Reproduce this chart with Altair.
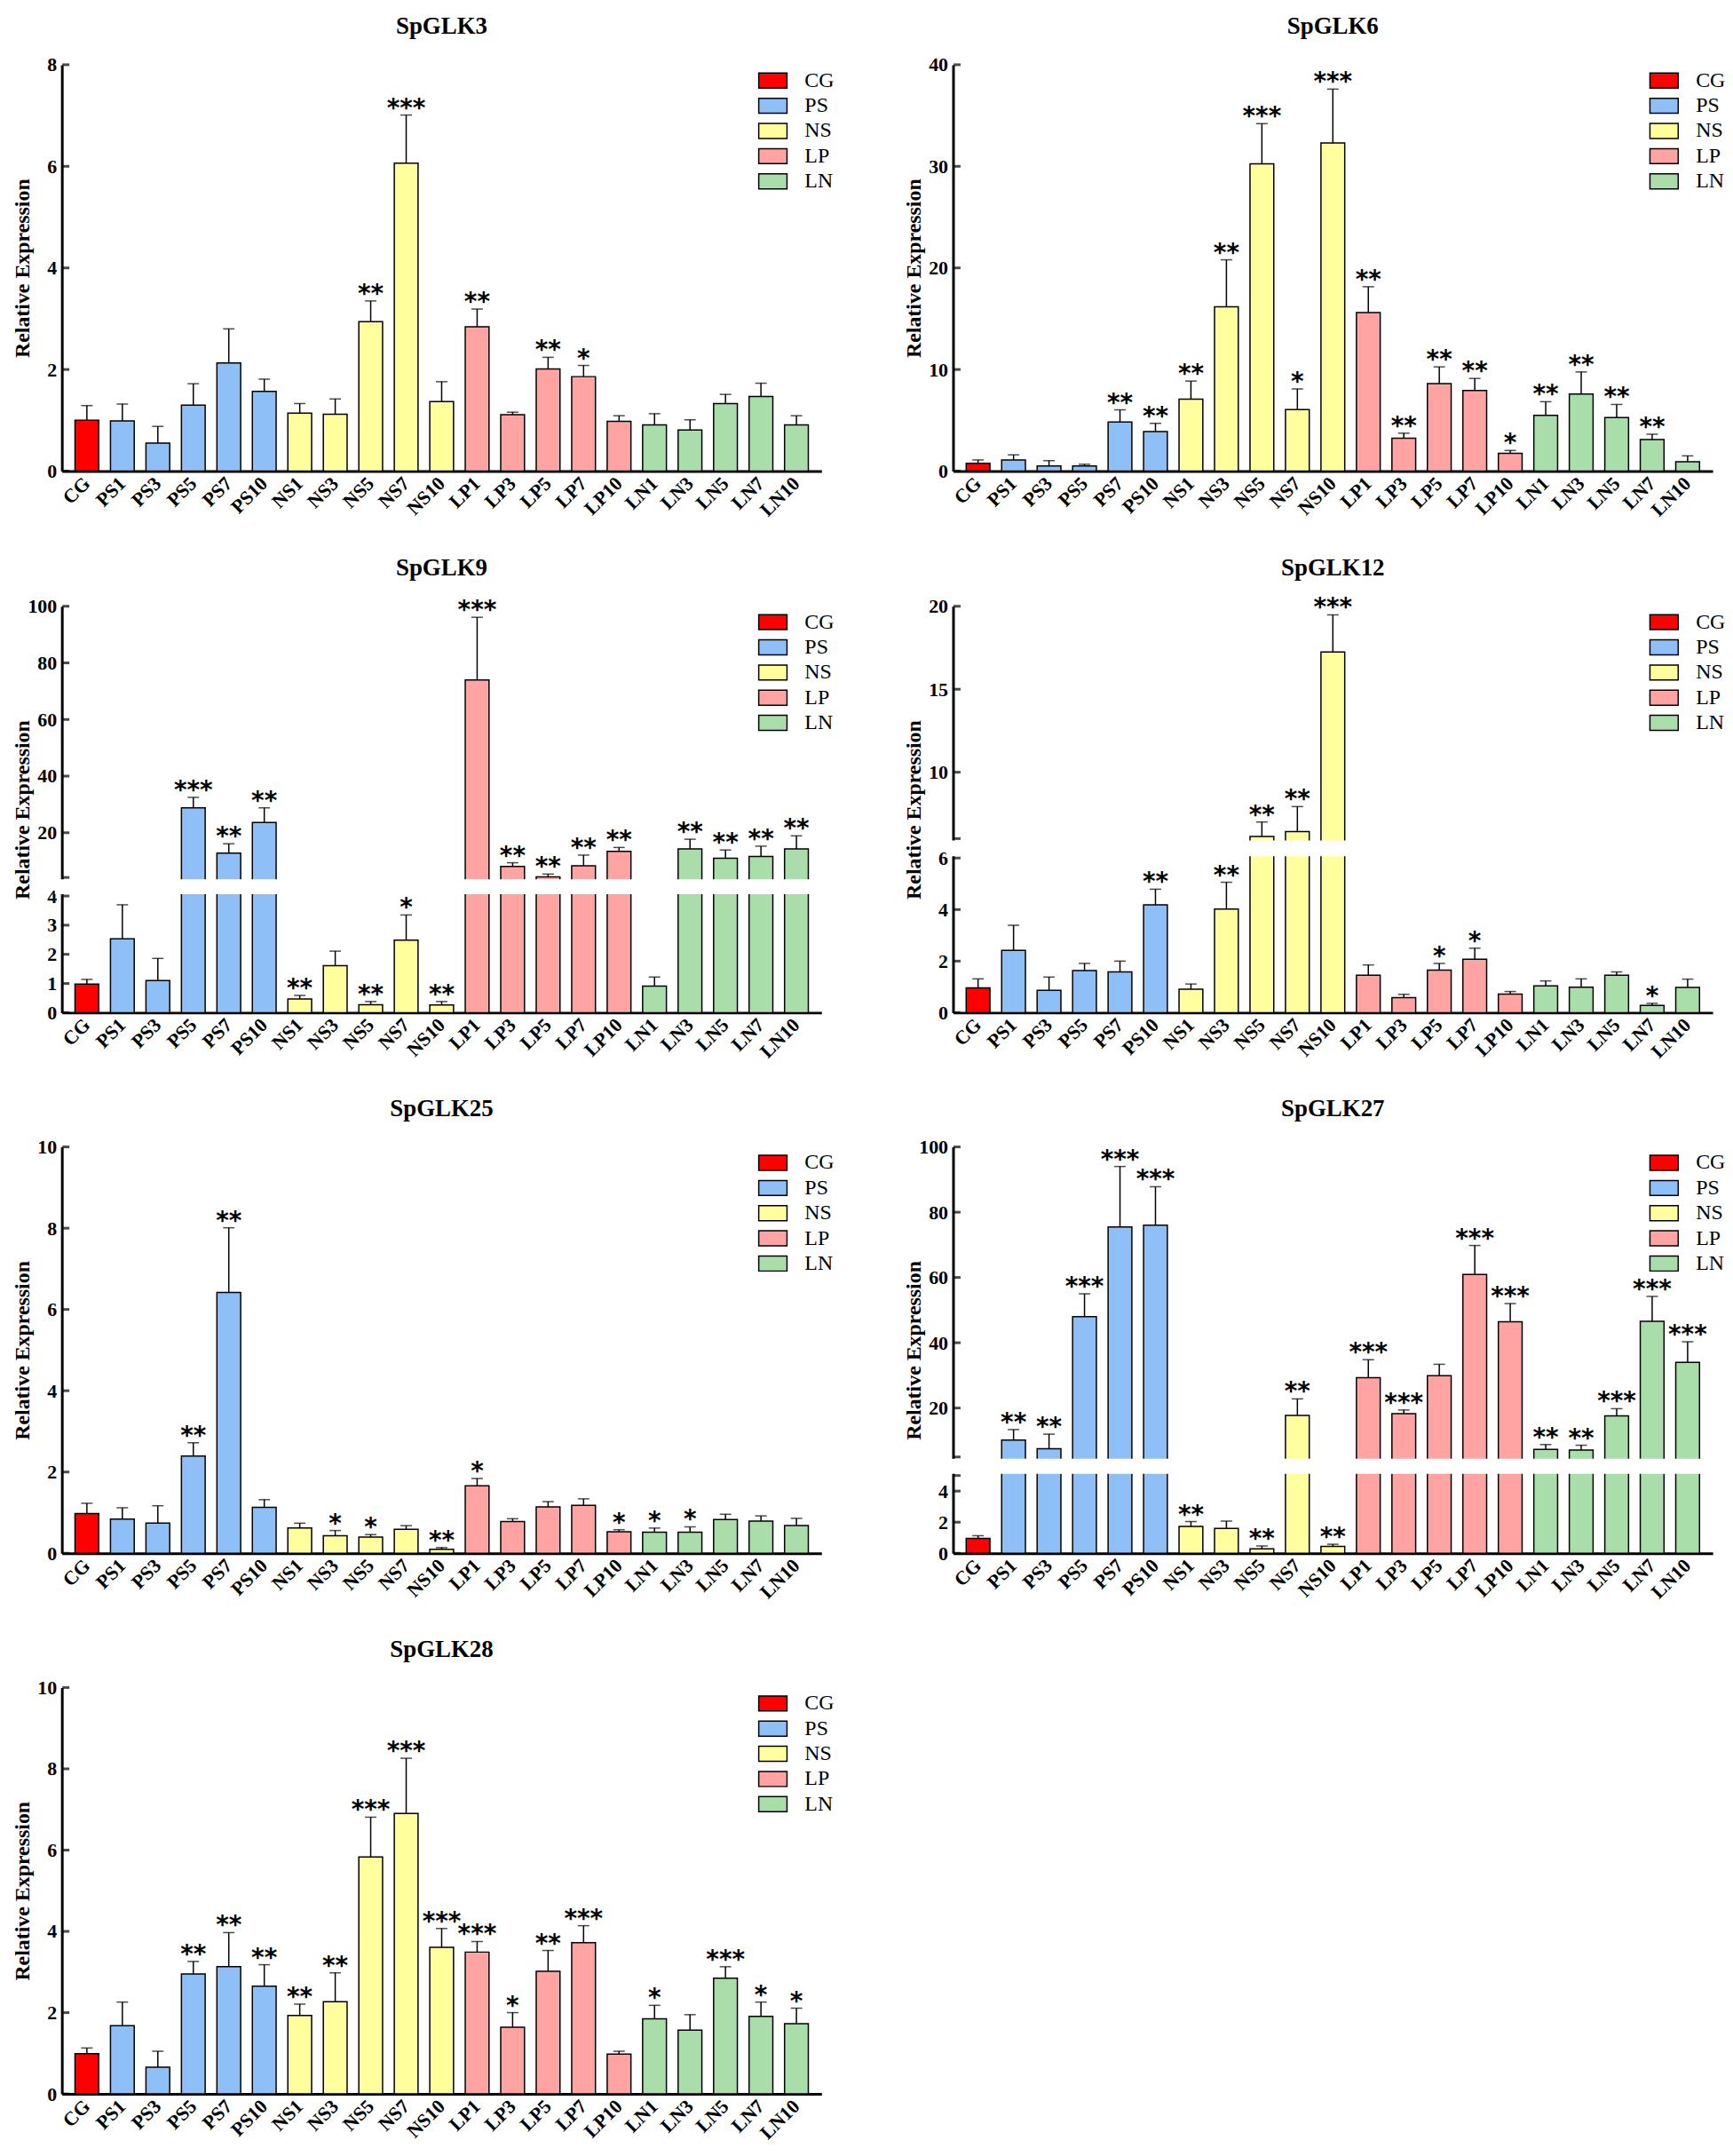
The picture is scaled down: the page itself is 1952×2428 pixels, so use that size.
import altair as alt
import pandas as pd

SERIF = "Liberation Serif"

CATS = ["CG", "PS1", "PS3", "PS5", "PS7", "PS10", "NS1", "NS3", "NS5", "NS7", "NS10",
        "LP1", "LP3", "LP5", "LP7", "LP10", "LN1", "LN3", "LN5", "LN7", "LN10"]
GROUP_OF = ["CG"] + ["PS"] * 5 + ["NS"] * 5 + ["LP"] * 5 + ["LN"] * 5
GROUPS = ["CG", "PS", "NS", "LP", "LN"]
BAR_COLORS = ["#FF0000", "#8FBFF7", "#FFFF9E", "#FFA3A3", "#A9DDA9"]

# ---------------- data (mean, mean+SD, significance) ----------------
GLK3_MEAN = [1.0, 0.99, 0.55, 1.30, 2.13, 1.57, 1.14, 1.12, 2.94, 6.06, 1.37,
             2.84, 1.11, 2.01, 1.86, 0.98, 0.91, 0.81, 1.33, 1.47, 0.91]
GLK3_UP = [1.29, 1.32, 0.88, 1.72, 2.80, 1.81, 1.33, 1.42, 3.35, 7.01, 1.76,
           3.19, 1.16, 2.24, 2.08, 1.09, 1.13, 1.01, 1.51, 1.73, 1.09]
GLK3_SIG = ["", "", "", "", "", "", "", "", "**", "***", "",
            "**", "", "**", "*", "", "", "", "", "", ""]

GLK6_MEAN = [0.77, 1.1, 0.5, 0.5, 4.83, 3.9, 7.09, 16.18, 30.24, 6.06, 32.3,
             15.6, 3.23, 8.62, 7.93, 1.76, 5.49, 7.59, 5.26, 3.1, 0.93]
GLK6_UP = [1.1, 1.6, 1.03, 0.67, 6.03, 4.7, 8.86, 20.8, 34.2, 8.09, 37.6,
           18.15, 3.73, 10.26, 9.12, 2.03, 6.83, 9.76, 6.56, 3.63, 1.5]
GLK6_SIG = ["", "", "", "", "**", "**", "**", "**", "***", "*", "***",
            "**", "**", "**", "**", "*", "**", "**", "**", "**", ""]

GLK9_MEAN = [0.98, 2.53, 1.10, 28.8, 12.8, 23.6, 0.47, 1.61, 0.27, 2.49, 0.26,
             74.0, 8.06, 4.4, 8.3, 13.4, 0.91, 14.3, 11.0, 11.6, 14.3]
GLK9_UP = [1.14, 3.70, 1.86, 32.5, 16.1, 28.8, 0.59, 2.11, 0.38, 3.35, 0.38,
           96.1, 9.4, 5.4, 12.1, 14.8, 1.22, 17.7, 13.9, 15.25, 18.9]
GLK9_SIG = ["", "", "", "***", "**", "**", "**", "", "**", "*", "**",
            "***", "**", "**", "**", "**", "", "**", "**", "**", "**"]

GLK12_MEAN = [0.96, 2.42, 0.87, 1.63, 1.58, 4.18, 0.91, 4.02, 6.13, 6.42, 17.25,
              1.45, 0.58, 1.65, 2.07, 0.72, 1.04, 0.99, 1.45, 0.28, 0.98]
GLK12_UP = [1.31, 3.39, 1.38, 1.91, 2.0, 4.79, 1.11, 5.06, 7.0, 7.93, 19.48,
            1.85, 0.71, 1.91, 2.5, 0.82, 1.23, 1.31, 1.58, 0.36, 1.3]
GLK12_SIG = ["", "", "", "", "", "**", "", "**", "**", "**", "***",
             "", "", "*", "*", "", "", "", "", "*", ""]

GLK25_MEAN = [0.98, 0.84, 0.74, 2.39, 6.42, 1.13, 0.62, 0.43, 0.40, 0.59, 0.10,
              1.66, 0.78, 1.14, 1.18, 0.53, 0.52, 0.52, 0.83, 0.79, 0.68]
GLK25_UP = [1.23, 1.12, 1.17, 2.72, 8.01, 1.32, 0.74, 0.56, 0.46, 0.68, 0.14,
            1.84, 0.85, 1.27, 1.34, 0.58, 0.62, 0.65, 0.96, 0.92, 0.86]
GLK25_SIG = ["", "", "", "**", "**", "", "", "*", "*", "", "**",
             "*", "", "", "", "*", "*", "*", "", "", ""]

GLK27_MEAN = [0.96, 10.17, 7.5, 48.0, 75.5, 76.0, 1.73, 1.6, 0.29, 17.7, 0.44,
              29.3, 18.3, 29.9, 60.9, 46.4, 7.3, 7.1, 17.6, 46.6, 34.0]
GLK27_UP = [1.13, 13.4, 12.0, 55.0, 94.0, 87.8, 2.04, 2.07, 0.47, 22.8, 0.58,
            34.8, 19.4, 33.4, 69.8, 52.0, 8.8, 8.6, 19.8, 54.2, 40.3]
GLK27_SIG = ["", "**", "**", "***", "***", "***", "**", "", "**", "**", "**",
             "***", "***", "", "***", "***", "**", "**", "***", "***", "***"]

GLK28_MEAN = [0.99, 1.68, 0.66, 2.95, 3.13, 2.65, 1.93, 2.27, 5.83, 6.90, 3.61,
              3.49, 1.64, 3.02, 3.72, 0.98, 1.85, 1.57, 2.85, 1.91, 1.73]
GLK28_UP = [1.13, 2.26, 1.05, 3.26, 3.97, 3.18, 2.21, 2.98, 6.81, 8.26, 4.07,
            3.75, 2.0, 3.53, 4.14, 1.05, 2.18, 1.95, 3.13, 2.26, 2.11]
GLK28_SIG = ["", "", "", "**", "**", "**", "**", "**", "***", "***", "***",
             "***", "*", "**", "***", "", "*", "", "***", "*", "*"]

W, H = 860, 460
SYMBOL_PATH = "M-1.6,-0.85H1.6V0.85H-1.6Z"


def panel(title, mean, upper, sig, domain, ticks, labeled, rng=None):
    df = pd.DataFrame({"cat": CATS, "grp": GROUP_OF, "val": mean, "up": upper, "sig": sig})
    tdf = pd.DataFrame({"t": ticks})
    xs = alt.Scale(domain=CATS, paddingInner=0.33, paddingOuter=0.37)
    xax = alt.Axis(title=None, labelAngle=-45, labelAlign="right", labelBaseline="middle",
                   labelPadding=10, labelFont=SERIF, labelFontWeight="bold", labelFontSize=22,
                   labelColor="black", ticks=False, domainWidth=3, domainColor="black",
                   labelOverlap=False, grid=False)
    skw = dict(domain=domain, nice=False)
    if rng:
        skw["range"] = rng
    ys = alt.Scale(**skw)
    lab = ",".join(str(v) for v in labeled)
    yax = alt.Axis(values=ticks,
                   labelExpr=f"indexof([{lab}], datum.value) >= 0 ? format(datum.value, 'd') : ''",
                   ticks=False, domainWidth=3, domainColor="black", labelFont=SERIF,
                   labelFontWeight="bold", labelFontSize=22, labelColor="black", labelPadding=6,
                   title="Relative Expression", titleFont=SERIF, titleFontWeight="bold",
                   titleFontSize=24, titleColor="black", titleX=-44, titleBaseline="middle",
                   labelOverlap=False, grid=False)

    def X():
        return alt.X("cat:N", scale=xs, axis=xax)

    def Y(f):
        return alt.Y(f, scale=ys, axis=yax)

    legend = alt.Legend(title=None, orient="none", legendX=793, legendY=6,
                        symbolType=SYMBOL_PATH, symbolSize=400, symbolOpacity=1,
                        symbolStrokeColor="black", symbolStrokeWidth=1.5,
                        labelFont=SERIF, labelFontSize=24, labelColor="black",
                        labelOffset=24, rowPadding=4.5, padding=0)

    base = alt.Chart(df)
    bars = base.mark_bar(stroke="black", strokeWidth=1.5).encode(
        x=X(), y=Y("val:Q"),
        color=alt.Color("grp:N", scale=alt.Scale(domain=GROUPS, range=BAR_COLORS), legend=legend))
    err = base.mark_rule(color="black", strokeWidth=1.5).encode(x=X(), y=Y("val:Q"), y2="up:Q")
    cap = base.mark_tick(orient="horizontal", size=13, thickness=1.5, color="black").encode(
        x=X(), y=Y("up:Q"))
    stars = base.mark_text(font="DejaVu Sans", fontWeight="bold", fontSize=28,
                           baseline="alphabetic", dy=1, color="black").encode(
        x=X(), y=Y("up:Q"), text="sig:N")
    layers = [bars, err, cap, stars]
    if rng:
        gap = alt.Chart(pd.DataFrame({"k": [0]})).mark_rect(
            color="white", yOffset=-2, y2Offset=2).encode(
            x=alt.value(-8), x2=alt.value(W + 4),
            y=alt.YDatum(domain[1], type="quantitative", scale=ys, axis=yax),
            y2=alt.Y2Datum(domain[2]))
        layers.append(gap)
    tk = alt.Chart(tdf).mark_tick(orient="horizontal", size=8, thickness=3, color="black").encode(
        x=alt.value(4.5), y=Y("t:Q"))
    layers.append(tk)
    return alt.layer(*layers).properties(
        width=W, height=H,
        title=alt.TitleParams(text=title, font=SERIF, fontSize=27, fontWeight="bold",
                              color="black", anchor="middle", frame="group", offset=-3,
                              baseline="alphabetic"))


p3 = panel("SpGLK3", GLK3_MEAN, GLK3_UP, GLK3_SIG, [0, 8], [0, 2, 4, 6, 8], [0, 2, 4, 6, 8])
p6 = panel("SpGLK6", GLK6_MEAN, GLK6_UP, GLK6_SIG, [0, 40], [0, 10, 20, 30, 40], [0, 10, 20, 30, 40])
p9 = panel("SpGLK9", GLK9_MEAN, GLK9_UP, GLK9_SIG, [0, 4, 4.2, 100],
           [0, 1, 2, 3, 4, 4.2, 20, 40, 60, 80, 100], [0, 1, 2, 3, 4, 20, 40, 60, 80, 100],
           rng=[460, 328, 307, 0])
p12 = panel("SpGLK12", GLK12_MEAN, GLK12_UP, GLK12_SIG, [0, 6, 6.001, 20],
            [0, 2, 4, 6, 6.001, 10, 15, 20], [0, 2, 4, 6, 10, 15, 20],
            rng=[460, 285, 263, 0])
p25 = panel("SpGLK25", GLK25_MEAN, GLK25_UP, GLK25_SIG, [0, 10], [0, 2, 4, 6, 8, 10], [0, 2, 4, 6, 8, 10])
p27 = panel("SpGLK27", GLK27_MEAN, GLK27_UP, GLK27_SIG, [0, 5, 5.001, 100],
            [0, 2, 4, 5, 5.001, 20, 40, 60, 80, 100], [0, 2, 4, 20, 40, 60, 80, 100],
            rng=[460, 372, 351, 0])
p28 = panel("SpGLK28", GLK28_MEAN, GLK28_UP, GLK28_SIG, [0, 10], [0, 2, 4, 6, 8, 10], [0, 2, 4, 6, 8, 10])

RES = dict(x="independent", y="independent", color="independent")


def row(*ps):
    return alt.hconcat(*ps, spacing=78).resolve_scale(**RES).resolve_legend(color="independent")


chart = alt.vconcat(row(p3, p6), row(p9, p12), row(p25, p27), row(p28), spacing=40).resolve_scale(
    **RES).resolve_legend(color="independent").properties(
    padding={"left": 6, "top": 2, "right": 0, "bottom": 0}).configure_view(stroke=None)

chart.save("out.html", embed_options={"renderer": "svg", "actions": False})
